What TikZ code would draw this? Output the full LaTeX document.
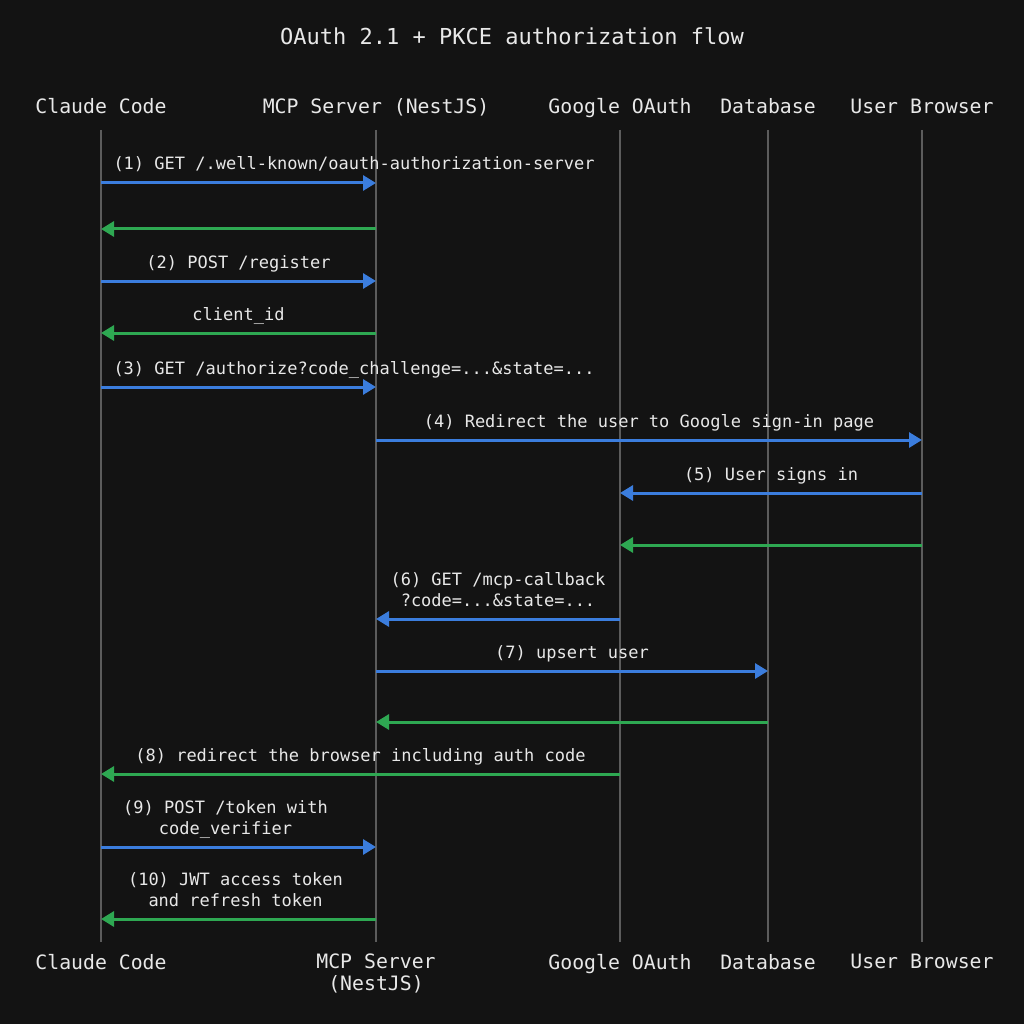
\documentclass[tikz,border=0pt]{standalone}
\usepackage{fontspec}
\setmainfont{DejaVu Sans Mono}
\usepackage{tikz}
\usetikzlibrary{arrows.meta,positioning}
\definecolor{bg}{RGB}{19,19,19}
\definecolor{lifegray}{RGB}{92,92,92}
\definecolor{reqblue}{RGB}{59,125,221}
\definecolor{respgreen}{RGB}{46,168,82}
\definecolor{txt}{RGB}{232,232,232}

\begin{document}
\begin{tikzpicture}[
      x=1pt, y=-1pt,
      >={Triangle[length=13pt,width=15pt]},
      title/.style={text=txt, font=\fontsize{22}{26}\selectfont, inner sep=0pt},
      actor/.style={text=txt, font=\fontsize{19.8}{22}\selectfont, align=center, inner sep=0pt},
      lifeline/.style={draw=lifegray, line width=2.2pt},
      msg/.style={text=txt, font=\fontsize{17}{21}\selectfont, align=center, inner sep=0pt, text height=13pt, text depth=4pt},
      req/.style={->, draw=reqblue, line width=3pt},
      resp/.style={->, draw=respgreen, line width=3pt},
]

\useasboundingbox (0,0) rectangle (1024,1024);
\fill[bg] (0,0) rectangle (1024,1024);

\node[title] (title) at (512,36) {OAuth 2.1 + PKCE authorization flow};

% participants, top and bottom, with their lifelines
\foreach \id/\x/\name in {cc/101/Claude Code, mcp/376/MCP Server (NestJS), go/620/Google OAuth, db/768/Database, ub/922/User Browser}{
  \node[actor, anchor=base] (\id-head) at (\x,114) {\name};
  \coordinate (\id) at (\x,130);
  \coordinate (\id-end) at (\x,942);
  \draw[lifeline] (\id) -- (\id-end);
}
\foreach \id/\x/\name in {cc/101/Claude Code, mcp/376/{MCP Server\\(NestJS)}, go/620/Google OAuth, db/768/Database, ub/922/User Browser}{
  \node[actor, anchor=north] (\id-foot) at (\x,954) {\name};
}

% messages
\draw[req] (cc |- 0,183) -- (mcp |- 0,183)
  node[msg, at start, anchor=south west, xshift=11pt, yshift=7.5pt] (m1) {(1) GET /.well-known/oauth-authorization-server};
\draw[resp] (mcp |- 0,229) -- (cc |- 0,229);
\draw[req] (cc |- 0,281) -- (mcp |- 0,281)
  node[msg, midway, above=7.5pt] (m2) {(2) POST /register};
\draw[resp] (mcp |- 0,333) -- (cc |- 0,333)
  node[msg, midway, above=7.5pt] (m2r) {client\_id};
\draw[req] (cc |- 0,387) -- (mcp |- 0,387)
  node[msg, at start, anchor=south west, xshift=11pt, yshift=7.5pt] (m3) {(3) GET /authorize?code\_challenge=...\&state=...};
\draw[req] (mcp |- 0,440) -- (ub |- 0,440)
  node[msg, midway, above=7.5pt] (m4) {(4) Redirect the user to Google sign-in page};
\draw[req] (ub |- 0,493) -- (go |- 0,493)
  node[msg, midway, above=7.5pt] (m5) {(5) User signs in};
\draw[resp] (ub |- 0,545) -- (go |- 0,545);
\draw[req] (go |- 0,619) -- (mcp |- 0,619)
  node[msg, midway, above=7.5pt] (m6) {(6) GET /mcp-callback\\?code=...\&state=...};
\draw[req] (mcp |- 0,671) -- (db |- 0,671)
  node[msg, midway, above=7.5pt] (m7) {(7) upsert user};
\draw[resp] (db |- 0,722) -- (mcp |- 0,722);
\draw[resp] (go |- 0,774) -- (cc |- 0,774)
  node[msg, midway, above=7.5pt] (m8) {(8) redirect the browser including auth code};
\draw[req] (cc |- 0,847) -- (mcp |- 0,847)
  node[msg, midway, above=7.5pt, xshift=-13pt] (m9) {(9) POST /token with\\code\_verifier};
\draw[resp] (mcp |- 0,919) -- (cc |- 0,919)
  node[msg, midway, above=7.5pt, xshift=-3pt] (m10) {(10) JWT access token\\and refresh token};

\end{tikzpicture}
\end{document}
